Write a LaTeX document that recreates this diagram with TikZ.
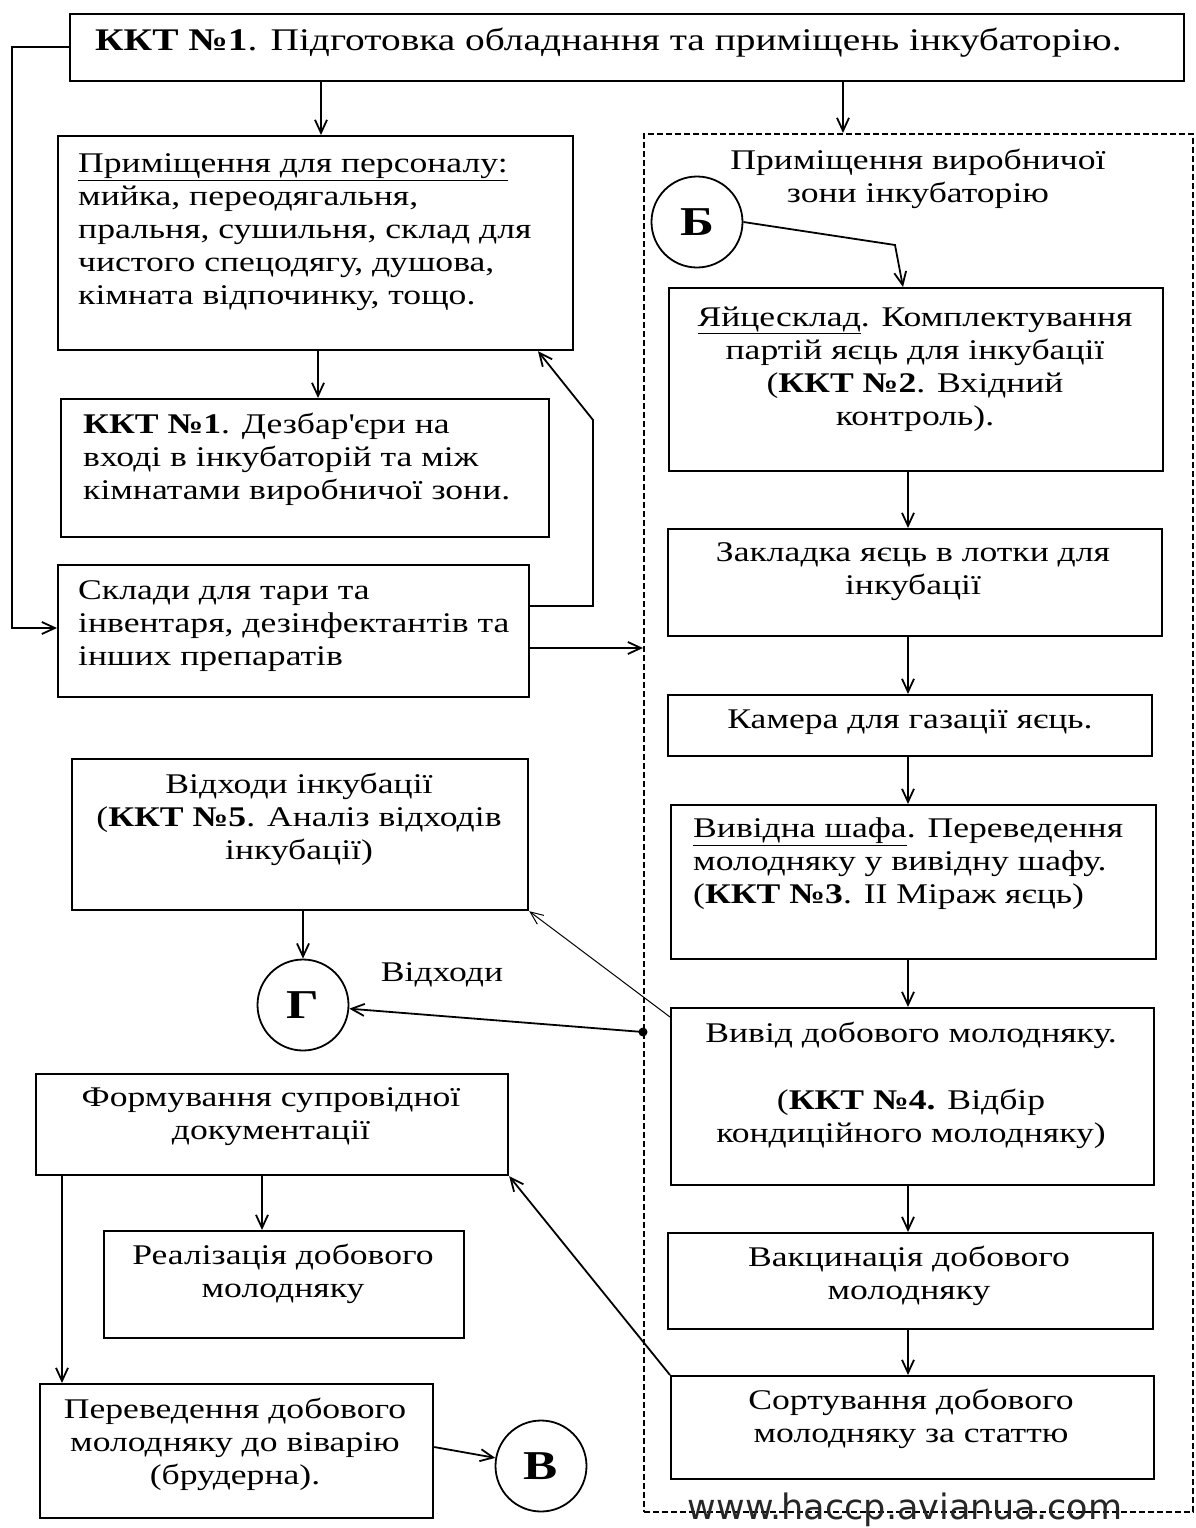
\documentclass[tikz,border=0pt]{standalone}
\usepackage{fontspec}
\setmainfont[FakeStretch=1.25]{Liberation Serif}
\newfontfamily\urlfont{DejaVu Sans}
\usetikzlibrary{arrows.meta}

\begin{document}
\begin{tikzpicture}[x=1pt,y=-1pt,
  box/.style={draw, line width=2.2pt, anchor=north west, inner sep=0pt},
  zonebox/.style={draw, line width=2.2pt, dash pattern=on 6pt off 3pt, anchor=north west, inner sep=0pt},
  txt/.style={inner sep=0pt, font=\fontsize{28.5}{33}\selectfont},
  txtc/.style={txt, anchor=north, align=center},
  txtl/.style={txt, anchor=north west, align=left},
  letter/.style={draw, circle, line width=1.8pt, minimum size=91pt, inner sep=0pt,
    font=\fontsize{41}{41}\selectfont\bfseries},
  arr/.style={line width=1.8pt, -{Straight Barb[length=13pt,width=12pt]}},
  thinarr/.style={line width=1pt, -{Straight Barb[length=13pt,width=11pt]}}
]
\useasboundingbox (0,0) rectangle (1195,1528);
\fill[white] (0,0) rectangle (1195,1528);

% ---- top box -------------------------------------------------------------
\node[box, minimum width=1114pt, minimum height=67pt] (kkt) at (69,13) {};
\node[txtl, font=\fontsize{31.5}{36}\selectfont] (kkttxt) at (95,24.8)
  {\strut\textbf{ККТ №1}. Підготовка обладнання та приміщень інкубаторію.};

% ---- left column ---------------------------------------------------------
\node[box, minimum width=515pt, minimum height=214pt] (pers) at (57,135) {};
\node[txtl] (perstxt) at (78,149.4) {\strut\underline{Приміщення для персоналу:}\\
  мийка, переодягальня,\\ пральня, сушильня, склад для\\ чистого спецодягу, душова,\\
  кімната відпочинку, тощо.};

\node[box, minimum width=488pt, minimum height=138pt] (dez) at (60,398) {};
\node[txtl] (deztxt) at (83,410.4) {\strut\textbf{ККТ №1}. Дезбар\textquotesingle{}єри на\\
  вході в інкубаторій та між\\ кімнатами виробничої зони.};

\node[box, minimum width=471pt, minimum height=132pt] (skl) at (57,564) {};
\node[txtl] (skltxt) at (78,576.4) {\strut Склади для тари та\\
  інвентаря, дезінфектантів та\\ інших препаратів};

\node[box, minimum width=456pt, minimum height=151pt] (otx) at (71,758) {};
\node[txtc] (otxtxt) at (299,770.4) {\strut Відходи інкубації\\
  (\textbf{ККТ №5}. Аналіз відходів\\ інкубації)};

\node[letter] (G) at (303,1005) {Г};
\node[txt] (otxlab) at (442,975) {Відходи};

\node[box, minimum width=472pt, minimum height=101pt] (form) at (35,1073) {};
\node[txtc] (formtxt) at (271,1083.4) {\strut Формування супровідної\\ документації};

\node[box, minimum width=360pt, minimum height=107pt] (real) at (103,1230) {};
\node[txtc] (realtxt) at (283,1241.4) {\strut Реалізація добового\\ молодняку};

\node[box, minimum width=393pt, minimum height=134pt] (per) at (39,1383) {};
\node[txtc] (pertxt) at (235,1395.4) {\strut Переведення добового\\
  молодняку до віварію\\ (брудерна).};

\node[letter] (V) at (541,1466) {В};

% ---- production zone -----------------------------------------------------
\node[zonebox, minimum width=549pt, minimum height=1378pt] (zone) at (643,133) {};
\node[txtc] (zonetxt) at (918,146.4) {\strut Приміщення виробничої\\ зони інкубаторію};

\node[letter] (B) at (697,222) {Б};

\node[box, minimum width=494pt, minimum height=183pt] (yaj) at (668,287) {};
\node[txtc] (yajtxt) at (915,303.4) {\strut\underline{Яйцесклад}. Комплектування\\
  партій яєць для інкубації\\ (\textbf{ККТ №2}. Вхідний\\ контроль).};

\node[box, minimum width=494pt, minimum height=107pt] (zak) at (667,528) {};
\node[txtc] (zaktxt) at (913,538.4) {\strut Закладка яєць в лотки для\\ інкубації};

\node[box, minimum width=484pt, minimum height=61pt] (kam) at (667,694) {};
\node[txtc] (kamtxt) at (910,705.4) {\strut Камера для газації яєць.};

\node[box, minimum width=485pt, minimum height=154pt] (sh) at (670,804) {};
\node[txtl] (shtxt) at (693,814.4) {\strut\underline{Вивідна шафа}. Переведення\\
  молодняку у вивідну шафу.\\ (\textbf{ККТ №3}. ІІ Міраж яєць)};

\node[box, minimum width=483pt, minimum height=177pt] (viv) at (670,1007) {};
\node[txtc] (vivtxt) at (911,1019.4) {\strut Вивід добового молодняку.\\[34pt]
  (\textbf{ККТ №4.} Відбір\\ кондиційного молодняку)};

\node[box, minimum width=485pt, minimum height=96pt] (vak) at (667,1232) {};
\node[txtc] (vaktxt) at (909,1243.4) {\strut Вакцинація добового\\ молодняку};

\node[box, minimum width=483pt, minimum height=103pt] (sort) at (670,1375) {};
\node[txtc] (sorttxt) at (911,1386.4) {\strut Сортування добового\\ молодняку за статтю};

\node[anchor=base, inner sep=0pt, text=black!85,
  font=\urlfont\fontsize{35}{40}\selectfont] (url) at (905,1519) {www.haccp.avianua.com};

% ---- helper points for bends and column positions ------------------------
\coordinate (xa) at (321,0);
\coordinate (xz) at (843,0);
\coordinate (xd) at (318,0);
\coordinate (xr) at (908,0);
\coordinate (xf) at (262,0);
\coordinate (xp) at (62,0);
\coordinate (la) at (12,47);
\coordinate (lb) at (12,628);
\coordinate (ra) at (593,606);
\coordinate (rb) at (593,420);
\coordinate (rt) at (538,0);
\coordinate (sz) at (600,648);
\coordinate (bk) at (895,245);
\coordinate (bt) at (903,0);
\coordinate (gdot) at (643,1032);
\coordinate (vb) at (0,1447);

% ---- connectors ----------------------------------------------------------
\draw[arr] (kkt.west |- la) -- (la) -- (lb) -- (skl.west |- lb);
\draw[arr] (kkt.south -| xa) -- (pers.north -| xa);
\draw[arr] (kkt.south -| xz) -- (zone.north -| xz);
\draw[arr] (pers.south -| xd) -- (dez.north -| xd);
\draw[arr] (skl.east |- ra) -- (ra) -- (rb) -- (pers.south -| rt);
\draw[arr] (skl.east |- sz) -- (zone.west |- sz);

\draw[arr] (B.east) -- (bk) -- (yaj.north -| bt);
\draw[arr] (yaj.south -| xr) -- (zak.north -| xr);
\draw[arr] (zak.south -| xr) -- (kam.north -| xr);
\draw[arr] (kam.south -| xr) -- (sh.north -| xr);
\draw[arr] (sh.south -| xr) -- (viv.north -| xr);
\draw[arr] (viv.south -| xr) -- (vak.north -| xr);
\draw[arr] (vak.south -| xr) -- (sort.north -| xr);

\draw[arr] (otx.south -| G) -- (G);
\fill (gdot) circle (4.5);
\draw[arr] (gdot) -- (G);
\draw[thinarr] ([yshift=-10pt]viv.north west) -- (otx.south east);

\draw[arr] (form.south -| xf) -- (real.north -| xf);
\draw[arr] (form.south -| xp) -- (per.north -| xp);
\draw[arr] (per.east |- vb) -- (V);
\draw[arr] (sort.north west) -- (form.south east);
\end{tikzpicture}
\end{document}
